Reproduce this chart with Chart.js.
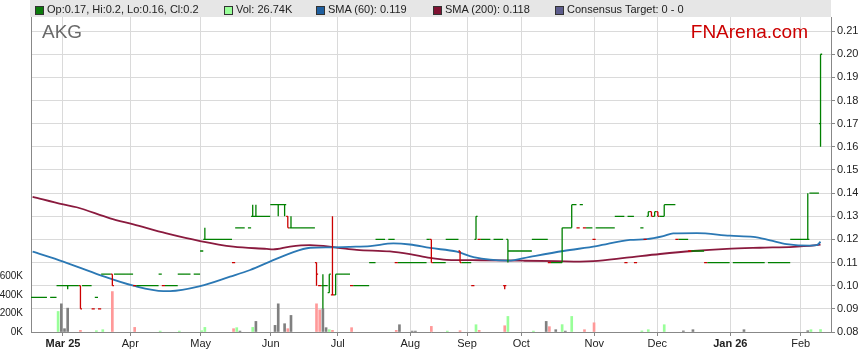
<!DOCTYPE html>
<html><head><meta charset="utf-8">
<script src="https://cdn.jsdelivr.net/npm/chart.js@4/dist/chart.umd.min.js"></script>
<style>
html,body{margin:0;padding:0;background:#fff;}
#wrap{position:relative;width:859px;height:363px;overflow:hidden;font-family:"Liberation Sans",Arial,sans-serif;}
#band{position:absolute;left:30px;top:0;width:801px;height:17px;background:#e6e6e6;}
canvas{position:absolute;left:0;top:0;}
.lg{position:absolute;top:1px;height:17px;line-height:17px;font-size:11px;color:#222;white-space:nowrap;}
.sq{position:absolute;top:6px;width:7px;height:7px;border:1px solid #333;box-sizing:content-box;}
#sym{position:absolute;left:42px;top:21px;font-size:19px;line-height:22px;color:#6a6a6a;}
#brand{position:absolute;right:51px;top:21px;font-size:19px;line-height:22px;color:#cc0000;}
</style></head>
<body>
<div id="wrap">
  <div id="band"></div>
  <canvas id="c" width="859" height="363"></canvas>
  <div class="sq" style="left:35px;background:#0b7a0b"></div><div class="lg" id="l1" style="left:47px"></div>
  <div class="sq" style="left:224px;background:#99ff99"></div><div class="lg" id="l2" style="left:236px"></div>
  <div class="sq" style="left:316px;background:#1f5f9f"></div><div class="lg" id="l3" style="left:328px"></div>
  <div class="sq" style="left:433px;background:#7f1232"></div><div class="lg" id="l4" style="left:445px"></div>
  <div class="sq" style="left:555px;background:#5c5c8c"></div><div class="lg" id="l5" style="left:567px">Consensus Target: 0 - 0</div>
  <div id="sym">AKG</div>
  <div id="brand">FNArena.com</div>
</div>
<script>
// ---- DATA (trading-day index 0..247, Feb 2025 .. Feb 2026) ----
const opens = [
 .095,.095,.095,.095,.095,null,.095,.095,.10,.10,
 .10,.10,.10,.10,.10,.10,.10,.10,.10,.09,
 .095,.09,.105,.105,.105,.105,.105,.105,.105,.105,
 .105,.105,.10,.10,.10,.10,.10,.10,.10,.10,
 .105,.10,.10,.10,.10,.10,.105,.105,.105,.105,
 null,.105,.105,.115,.12,.12,.12,.12,.12,.12,
 .12,.12,.12,.11,.125,.125,.125,null,.125,.13,
 .13,.13,.13,.13,.13,.135,.135,.135,.135,.135,
 .13,.125,.125,.125,.125,.125,.125,.125,.125,.11,
 .10,.10,.10,.097,.096,.096,.105,.105,.105,.105,
 .10,.10,.10,.10,.10,.10,.11,.11,.12,.12,
 .12,null,.12,.12,.11,.11,.11,.11,.11,.11,
 .11,.11,.11,.11,.12,.12,.11,.11,.11,.11,
 .12,.12,.12,.12,.115,.11,.11,.11,.10,.12,
 .12,.12,.12,.12,null,.12,.12,.12,.10,.12,
 .115,.115,.115,.115,.115,.115,.115,.12,.12,.12,
 .12,.12,.11,.11,.11,.11,.11,.125,.125,.125,
 .135,.125,.135,.125,.125,.125,.12,.125,.125,.125,
 .125,.125,.125,.13,.13,.13,.11,.13,.13,.11,
 null,.125,.12,.13,.132,.13,.132,.13,.13,.135,
 .135,.135,.12,.12,.12,.12,.115,.115,.115,.115,
 .115,.11,.11,.11,.11,.11,.11,.11,.11,null,
 .11,.11,.11,.11,.11,.11,.11,.11,.11,.11,
 null,.11,.11,.11,.11,.11,.11,.11,.12,.12,
 .12,.12,.12,.12,.14,.14,.14,.17];
const highs = [
 .095,.095,.095,.095,.095,null,.095,.095,.10,.10,
 .10,.10,.10,.10,.10,.10,.10,.10,.10,.09,
 .095,.09,.105,.105,.105,.105,.105,.105,.105,.105,
 .105,.105,.10,.10,.10,.10,.10,.10,.10,.10,
 .105,.10,.10,.10,.10,.10,.105,.105,.105,.105,
 null,.105,.105,.115,.125,.12,.12,.12,.12,.12,
 .12,.12,.12,.11,.125,.125,.125,null,.125,.135,
 .135,.13,.13,.13,.13,.135,.135,.135,.135,.135,
 .13,.13,.125,.125,.125,.125,.125,.125,.125,.11,
 .10,.105,.10,.105,.13,.105,.105,.105,.105,.105,
 .10,.10,.10,.10,.10,.10,.11,.11,.12,.12,
 .12,null,.12,.12,.11,.11,.11,.11,.11,.11,
 .11,.11,.11,.11,.12,.12,.11,.11,.11,.11,
 .12,.12,.12,.12,.115,.11,.11,.11,.10,.13,
 .12,.12,.12,.12,null,.12,.12,.12,.10,.12,
 .115,.115,.115,.115,.115,.115,.115,.12,.12,.12,
 .12,.12,.11,.11,.11,.11,.125,.125,.125,.135,
 .135,.125,.135,.125,.125,.125,.12,.125,.125,.125,
 .125,.125,.125,.13,.13,.13,.11,.13,.13,.11,
 null,.125,.12,.132,.132,.132,.132,.13,.135,.135,
 .135,.135,.12,.12,.12,.12,.115,.115,.115,.115,
 .115,.11,.11,.11,.11,.11,.11,.11,.11,null,
 .11,.11,.11,.11,.11,.11,.11,.11,.11,.11,
 null,.11,.11,.11,.11,.11,.11,.11,.12,.12,
 .12,.12,.12,.14,.14,.14,.14,.20];
const lows = [
 .095,.095,.095,.095,.095,null,.095,.095,.10,.10,
 .10,.0985,.10,.10,.10,.09,.10,.10,.10,.09,
 .095,.09,.105,.105,.105,.10,.105,.105,.105,.105,
 .105,.105,.10,.10,.10,.10,.10,.10,.10,.10,
 .105,.10,.10,.10,.10,.10,.105,.105,.105,.105,
 null,.105,.105,.115,.12,.12,.12,.12,.12,.12,
 .12,.12,.12,.11,.125,.125,.125,null,.125,.13,
 .13,.13,.13,.13,.13,.135,.135,.13,.135,.13,
 .125,.125,.125,.125,.125,.125,.125,.125,.125,.10,
 .10,.09,.10,.097,.096,.096,.105,.105,.105,.105,
 .10,.10,.10,.10,.10,.10,.11,.11,.12,.12,
 .12,null,.12,.12,.11,.11,.11,.11,.11,.11,
 .11,.11,.11,.11,.12,.11,.11,.11,.11,.11,
 .12,.12,.12,.12,.11,.11,.11,.11,.10,.12,
 .12,.12,.12,.12,null,.12,.12,.12,.0985,.11,
 .115,.115,.115,.115,.115,.115,.115,.12,.12,.12,
 .12,.12,.11,.11,.11,.11,.11,.125,.125,.125,
 .135,.125,.135,.125,.125,.125,.12,.125,.125,.125,
 .125,.125,.125,.13,.13,.13,.11,.13,.13,.11,
 null,.125,.12,.13,.13,.13,.13,.13,.13,.135,
 .135,.135,.12,.12,.12,.12,.115,.115,.115,.115,
 .115,.11,.11,.11,.11,.11,.11,.11,.11,null,
 .11,.11,.11,.11,.11,.11,.11,.11,.11,.11,
 null,.11,.11,.11,.11,.11,.11,.11,.12,.12,
 .12,.12,.12,.12,.14,.14,.14,.16];
const closes = [
 .095,.095,.095,.095,.095,null,.095,.095,.10,.10,
 .10,.10,.10,.10,.10,.09,.10,.10,.10,.09,
 .095,.09,.105,.105,.105,.10,.105,.105,.105,.105,
 .105,.105,.10,.10,.10,.10,.10,.10,.10,.10,
 .105,.10,.10,.10,.10,.10,.105,.105,.105,.105,
 null,.105,.105,.115,.12,.12,.12,.12,.12,.12,
 .12,.12,.12,.11,.125,.125,.125,null,.125,.13,
 .13,.13,.13,.13,.13,.135,.135,.135,.135,.135,
 .125,.125,.125,.125,.125,.125,.125,.125,.125,.105,
 .10,.10,.10,.105,.096,.105,.105,.105,.105,.105,
 .10,.10,.10,.10,.10,.10,.11,.11,.12,.12,
 .12,null,.12,.12,.11,.11,.11,.11,.11,.11,
 .11,.11,.11,.11,.12,.11,.11,.11,.11,.11,
 .12,.12,.12,.12,.11,.11,.11,.11,.10,.13,
 .12,.12,.12,.12,null,.12,.12,.12,.10,.115,
 .115,.115,.115,.115,.115,.115,.115,.12,.12,.12,
 .12,.12,.11,.11,.11,.11,.125,.125,.125,.135,
 .135,.125,.135,.125,.125,.125,.12,.125,.125,.125,
 .125,.125,.125,.13,.13,.13,.11,.13,.13,.11,
 null,.125,.12,.132,.13,.132,.13,.13,.135,.135,
 .135,.135,.12,.12,.12,.12,.115,.115,.115,.115,
 .115,.11,.11,.11,.11,.11,.11,.11,.11,null,
 .11,.11,.11,.11,.11,.11,.11,.11,.11,.11,
 null,.11,.11,.11,.11,.11,.11,.11,.12,.12,
 .12,.12,.12,.12,.14,.14,.14,.20];
// volume in thousands of shares
const volumesK = [
 0,0,0,0,0,null,0,0,223,306,
 36,259,0,0,0,18,0,0,0,0,
 14,0,25,0,0,439,0,0,0,0,
 0,0,50,0,0,0,0,0,0,0,
 10,0,0,0,0,0,10,0,0,0,
 null,0,0,14,50,0,0,0,0,0,
 0,0,0,36,47,10,0,null,0,50,
 115,0,0,0,0,0,72,306,0,90,
 36,180,0,0,0,0,0,0,0,306,
 241,252,47,25,18,0,0,0,0,0,
 47,0,0,0,0,0,0,0,0,0,
 0,null,0,0,18,79,0,0,0,10,
 10,0,0,0,0,61,0,0,0,0,
 10,0,0,0,14,0,0,0,0,79,
 18,0,0,0,null,0,0,0,68,169,
 0,0,0,0,0,0,0,10,0,0,
 0,115,58,0,25,0,80,10,0,169,
 0,0,0,25,0,0,100,0,0,0,
 0,0,0,0,0,0,0,0,0,0,
 null,12,0,25,0,0,0,0,79,0,
 0,0,0,0,12,0,0,25,0,0,
 0,0,0,0,0,0,0,0,0,null,
 0,0,0,25,0,0,0,0,0,0,
 null,0,0,0,0,0,0,0,0,0,
 0,0,0,14,25,0,0,26.74];
// moving averages (day index, value)
const sma60Days = [0,9.6,21.1,31.6,41,43.1,52.5,61.9,68.2,74.4,80.7,87,93.2,99.5,105.8,113.1,118.3,124.6,133,138.2,149.1,155.9,166.4,176.8,187.3,192.5,197.7,200.8,208.2,218.6,225.9,231.2,236.4,243.7,245.8,247];
const sma60Vals = [0.1147,0.1104,0.1046,0.1000,0.0977,0.0977,0.0998,0.1039,0.1068,0.1104,0.1140,0.1164,0.1166,0.1168,0.1171,0.1183,0.1178,0.1163,0.1147,0.1123,0.1108,0.1125,0.1150,0.1171,0.1198,0.1201,0.1214,0.1226,0.1227,0.1216,0.1211,0.1196,0.1180,0.1173,0.1175,0.1190];
const sma200Days = [0,9.6,13.8,24.3,31.6,42,52.5,62.9,73.4,75.4,80.7,87,95.3,101.6,112,118.3,124.6,129.8,140.3,153.7,164.3,171.6,175.8,186.2,196.7,207.1,217.6,228,238.5,246.3,247];
const sma200Vals = [0.1384,0.1351,0.1339,0.1291,0.1265,0.1226,0.1193,0.1169,0.1159,0.1157,0.1169,0.1175,0.1165,0.1155,0.1148,0.1136,0.1120,0.1112,0.1110,0.1108,0.1106,0.1104,0.1106,0.1121,0.1137,0.1150,0.1159,0.1164,0.1168,0.1176,0.1178];
// axis ticks
const monthLabels = ["Mar 25","Apr","May","Jun","Jul","Aug","Sep","Oct","Nov","Dec","Jan 26","Feb"];
const monthPos = [9.53,30.63,52.70,74.64,95.64,118.40,136.18,153.20,176.08,195.83,218.72,240.79];
const priceTicks = [0.08,0.09,0.10,0.11,0.12,0.13,0.14,0.15,0.16,0.17,0.18,0.19,0.20,0.21];
const volumeTicks = [0,200000,400000,600000];

// ---- build library data ----
const FONT = '"Liberation Sans", Arial, sans-serif';
Chart.defaults.font.family = FONT;
const upPts = [], dnPts = [], volPts = [], volCols = [];
let prev = null;
for (let i = 0; i < closes.length; i++) {
  const c = closes[i];
  if (c == null) continue;
  const up = prev == null || c >= prev;
  const t = up ? upPts : dnPts;
  t.push({x:i-0.5,y:opens[i]},{x:i,y:opens[i]},{x:i,y:null},
         {x:i,y:lows[i]},{x:i,y:highs[i]},{x:i,y:null},
         {x:i,y:c},{x:i+0.5,y:c},{x:i+0.5,y:null});
  if (volumesK[i] > 0) {
    volPts.push({x:i, y:volumesK[i]*1000});
    volCols.push(prev == null || c === prev ? '#808080' : (c > prev ? '#99ff99' : '#ff9999'));
  }
  prev = c;
}
const last = closes.length - 1;
document.getElementById('l1').textContent = `Op:${opens[last]}, Hi:${highs[last]}, Lo:${lows[last]}, Cl:${closes[last]}`;
document.getElementById('l2').textContent = `Vol: ${volumesK[last]}K`;
document.getElementById('l3').textContent = `SMA (60): ${sma60Vals[sma60Vals.length-1].toFixed(3)}`;
document.getElementById('l4').textContent = `SMA (200): ${sma200Vals[sma200Vals.length-1].toFixed(3)}`;

new Chart(document.getElementById('c'), {
  type: 'line',
  data: { datasets: [
    { type:'line', data: upPts, borderColor:'#008000', borderWidth:1.3, pointRadius:0, tension:0, spanGaps:false, yAxisID:'y', order:0, borderCapStyle:'butt' },
    { type:'line', data: dnPts, borderColor:'#cc0000', borderWidth:1.3, pointRadius:0, tension:0, spanGaps:false, yAxisID:'y', order:0, borderCapStyle:'butt' },
    { type:'line', data: sma60Days.map((x,k)=>({x, y:sma60Vals[k]})), borderColor:'#2b78b4', borderWidth:1.8, pointRadius:0, cubicInterpolationMode:'monotone', yAxisID:'y', order:1 },
    { type:'line', data: sma200Days.map((x,k)=>({x, y:sma200Vals[k]})), borderColor:'#8a1a3e', borderWidth:1.8, pointRadius:0, cubicInterpolationMode:'monotone', yAxisID:'y', order:2 },
    { type:'bar', data: volPts, backgroundColor: volCols, borderWidth:0, barThickness:2, yAxisID:'yv', order:3 }
  ]},
  options: {
    responsive:false, animation:false, devicePixelRatio:1,
    layout:{ padding:{ top:17, left:0, right:0, bottom:0 } },
    plugins:{ legend:{display:false}, tooltip:{enabled:false} },
    scales:{
      x:{ type:'linear', min:-0.5, max:250.28, offset:false,
        afterBuildTicks: s => { s.ticks = monthPos.map(v => ({value:v})); },
        afterFit: s => { s.height = 31; },
        ticks:{ autoSkip:false, maxRotation:0, padding:1, color:'#222',
          callback:(v, idx) => monthLabels[idx],
          font: ctx => ({ family:FONT, size:11, weight: (monthLabels[ctx.index]||'').includes(' ') ? 'bold' : 'normal' }) },
        grid:{ offset:false, color:'#dadada', lineWidth:1, tickLength:4, tickColor:'#888' },
        border:{ color:'#888', width:1 } },
      y:{ type:'linear', position:'right', min:0.08, max:0.2161,
        afterBuildTicks: s => { s.ticks = priceTicks.map(v => ({value:v})); },
        afterFit: s => { s.width = 28; },
        ticks:{ color:'#222', padding:2, font:{family:FONT, size:11}, callback: v => v.toFixed(2) },
        grid:{ color:'#dadada', lineWidth:1, tickLength:4, tickColor:'#888' },
        border:{ color:'#888', width:1 } },
      yv:{ type:'linear', position:'left', min:0, max:3420000,
        afterBuildTicks: s => { s.ticks = volumeTicks.map(v => ({value:v})); },
        afterFit: s => { s.width = 31; },
        ticks:{ color:'#222', padding:8, font:{family:FONT, size:10}, callback: v => (v/1000) + 'K' },
        grid:{ drawOnChartArea:false, drawTicks:false },
        border:{ color:'#888', width:1 } }
    }
  }
});
</script>
</body></html>
